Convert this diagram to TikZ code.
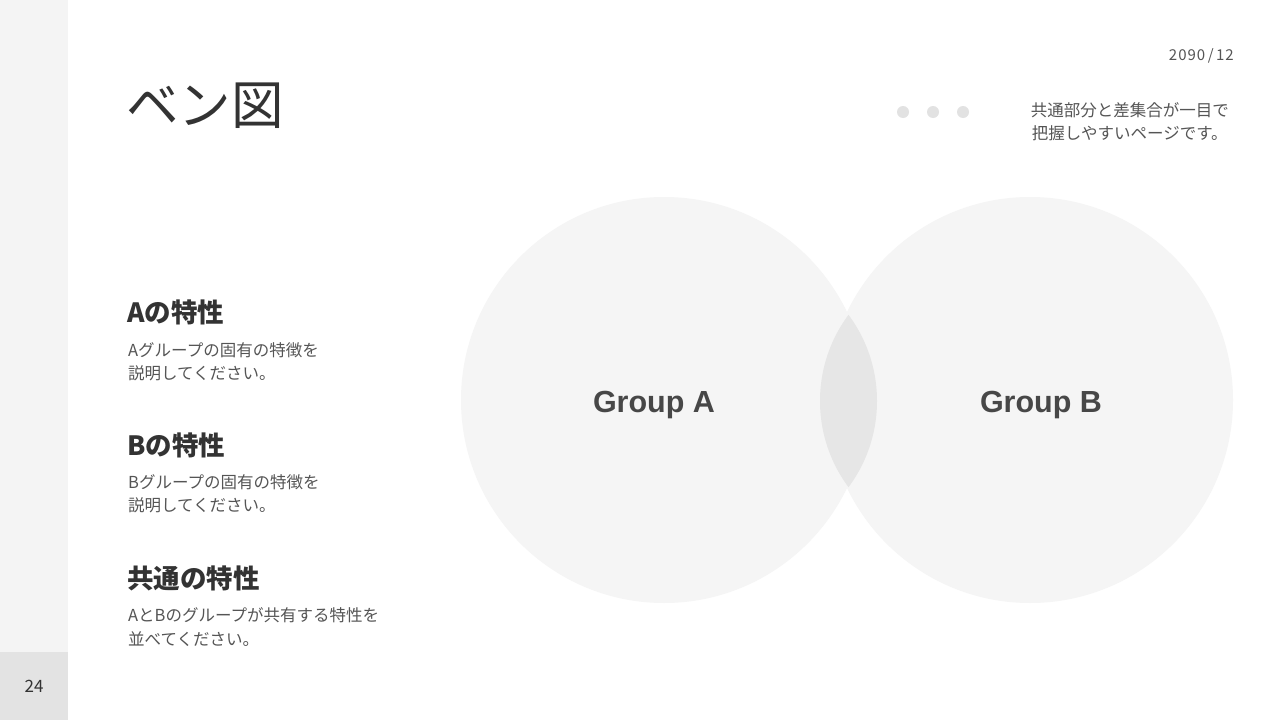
\documentclass[tikz,border=0pt]{standalone}
\usepackage{fontspec}
\setmainfont{Noto Sans CJK JP}
\newfontfamily\latinb{Liberation Sans}
\definecolor{side}{HTML}{F4F4F4}
\definecolor{pagebox}{HTML}{E3E3E3}
\definecolor{circ}{HTML}{F5F5F5}
\definecolor{lens}{HTML}{E6E6E6}
\definecolor{dark}{HTML}{333333}
\definecolor{mid}{HTML}{555555}
\definecolor{dotc}{HTML}{E2E2E2}
\tikzset{
  body/.style={anchor=west, text=mid, font=\fontsize{16.5}{23.5}\selectfont, align=left, inner sep=0pt},
  head/.style={anchor=west, text=dark, font=\fontsize{26.5}{30}\selectfont\bfseries, inner sep=0pt},
  grp/.style={text=dark!90, font=\latinb\fontsize{30.5}{34}\selectfont\bfseries, inner sep=0pt},
  dotst/.style={circle, fill=dotc, minimum size=12pt, inner sep=0pt}
}
\begin{document}
\begin{tikzpicture}[x=1pt,y=-1pt]
\useasboundingbox (0,0) rectangle (1280,720);
\fill[white] (0,0) rectangle (1280,720);
\fill[side] (0,0) rectangle (68,652);
\fill[pagebox] (0,652) rectangle (68,720);
\node[text=dark, font=\fontsize{17}{20}\selectfont, inner sep=0pt] (pg) at (34,686) {24};
% title
\node[anchor=west, text=dark, font=\fontsize{52.5}{58}\selectfont, inner sep=0pt] (title) at (126,106) {ベン図};
\node[anchor=east, text=mid, font=\fontsize{15}{17}\selectfont, inner sep=0pt] (date) at (1234,56) {2\kern1pt0\kern1pt9\kern1pt0\,/\,1\kern1pt2};
\node[dotst] (d1) at (903,112) {};
\node[dotst] (d2) at (933,112) {};
\node[dotst] (d3) at (963,112) {};
\node[anchor=east, text=mid, align=center, font=\fontsize{16.5}{23}\selectfont, inner sep=0pt] (desc) at (1229,122) {共通部分と差集合が一目で\\把握しやすいページです。};
% left column
\node[head] (ha) at (127,312) {Aの特性};
\node[body] (ba) at (128,362) {Aグループの固有の特徴を\\説明してください。};
\node[head] (hb) at (127,445) {Bの特性};
\node[body] (bb) at (128,494) {Bグループの固有の特徴を\\説明してください。};
\node[head] (hc) at (127,578) {共通の特性};
\node[body] (bc) at (128,627) {AとBのグループが共有する特性を\\並べてください。};
% venn
\fill[circ] (664,400) circle (203);
\fill[circ] (1030,400) circle (203);
\begin{scope}
  \clip (964.5,401) circle (144.5);
  \fill[lens] (732.5,401) circle (144.5);
\end{scope}
\node[grp] (ga) at (654,405) {Group A};
\node[grp] (gb) at (1041,405) {Group B};
\end{tikzpicture}
\end{document}
